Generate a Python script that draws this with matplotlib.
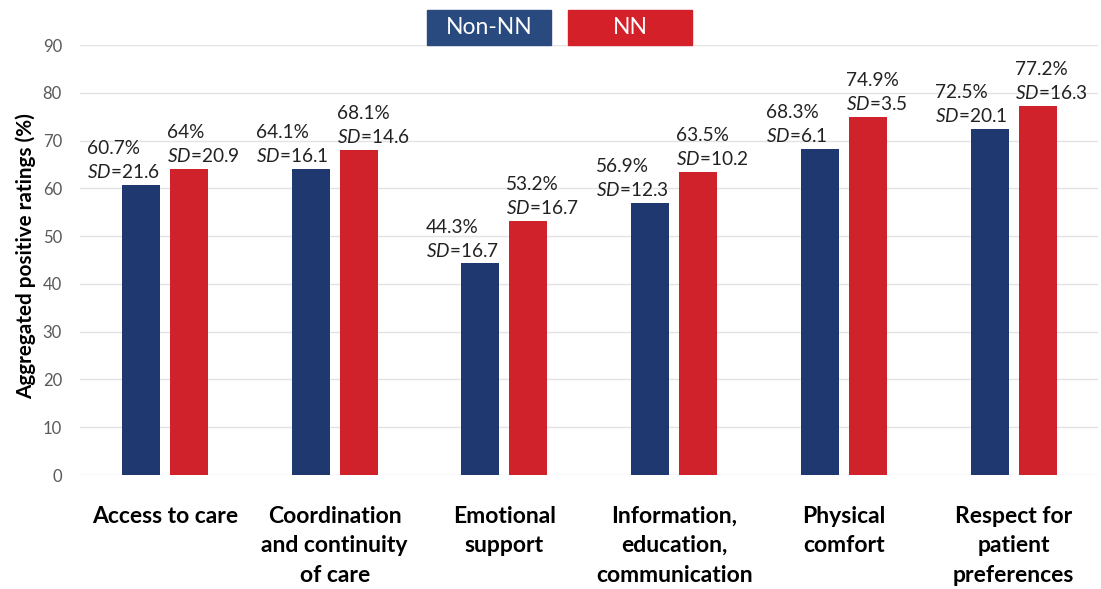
import matplotlib

matplotlib.use("Agg")

import matplotlib.pyplot as plt
import numpy as np
from matplotlib.patches import Rectangle

plt.rcParams["font.family"] = "Lato"
plt.rcParams["mathtext.fontset"] = "custom"
plt.rcParams["mathtext.it"] = "Lato:italic"
plt.rcParams["mathtext.rm"] = "Lato"

categories = [
    "Access to care",
    "Coordination\nand continuity\nof care",
    "Emotional\nsupport",
    "Information,\neducation,\ncommunication",
    "Physical\ncomfort",
    "Respect for\npatient\npreferences",
]
non_nn = [60.7, 64.1, 44.3, 56.9, 68.3, 72.5]
non_nn_sd = [21.6, 16.1, 16.7, 12.3, 6.1, 20.1]
nn = [64, 68.1, 53.2, 63.5, 74.9, 77.2]
nn_sd = [20.9, 14.6, 16.7, 10.2, 3.5, 16.3]
yticks = [0, 10, 20, 30, 40, 50, 60, 70, 80, 90]

BLUE = "#203870"
RED = "#D0222A"

fig = plt.figure(figsize=(11.01, 5.89), dpi=100)
ax = fig.add_axes([0.0727, 0.1935, 0.925, 0.730])

x = np.arange(len(categories))
w = 0.224
off = 0.141
ax.bar(x - off, non_nn, width=w, color=BLUE, zorder=3)
ax.bar(x + off, nn, width=w, color=RED, zorder=3)


def label(xs, vals, sds, dx):
    for xi, v, sd in zip(xs, vals, sds):
        txt = f"{v:g}%\n$\\mathit{{SD}}$=" + f"{sd:g}"
        ax.text(xi + dx, v + 0.8, txt, ha="left", va="bottom",
                fontsize=13.7, color="#222222", linespacing=1.4, zorder=4)


label(x - off, non_nn, non_nn_sd, -0.32)
label(x + off, nn, nn_sd, -0.13)

ax.set_xlim(-0.5, len(categories) - 0.5)
ax.set_ylim(0, 90)
ax.set_yticks(yticks)
ax.tick_params(axis="y", length=0, labelsize=12, labelcolor="#595959", pad=13)
ax.tick_params(axis="x", length=0, pad=22)
ax.set_xticks(x)
ax.set_xticklabels(categories, fontsize=16.5, fontweight="bold", linespacing=1.5, va="top")
ax.grid(axis="y", color="#E3E3E3", linewidth=1, zorder=0)
for s in ax.spines.values():
    s.set_visible(False)
ax.set_ylabel("Aggregated positive ratings (%)", fontsize=14.9, fontweight="bold")
ax.yaxis.set_label_coords(-0.043, 0.51)

# legend boxes
for x0, col, name in [(427, "#284A7E", "Non-NN"), (568, "#D42028", "NN")]:
    fig.patches.append(Rectangle((x0 / 1101, 1 - 45 / 589), 124 / 1101, 35 / 589,
                                 transform=fig.transFigure, color=col))
    fig.text((x0 + 62) / 1101, 1 - 28 / 589, name, color="white", fontsize=16.5,
             ha="center", va="center")

fig.savefig("out.png", dpi=100)
